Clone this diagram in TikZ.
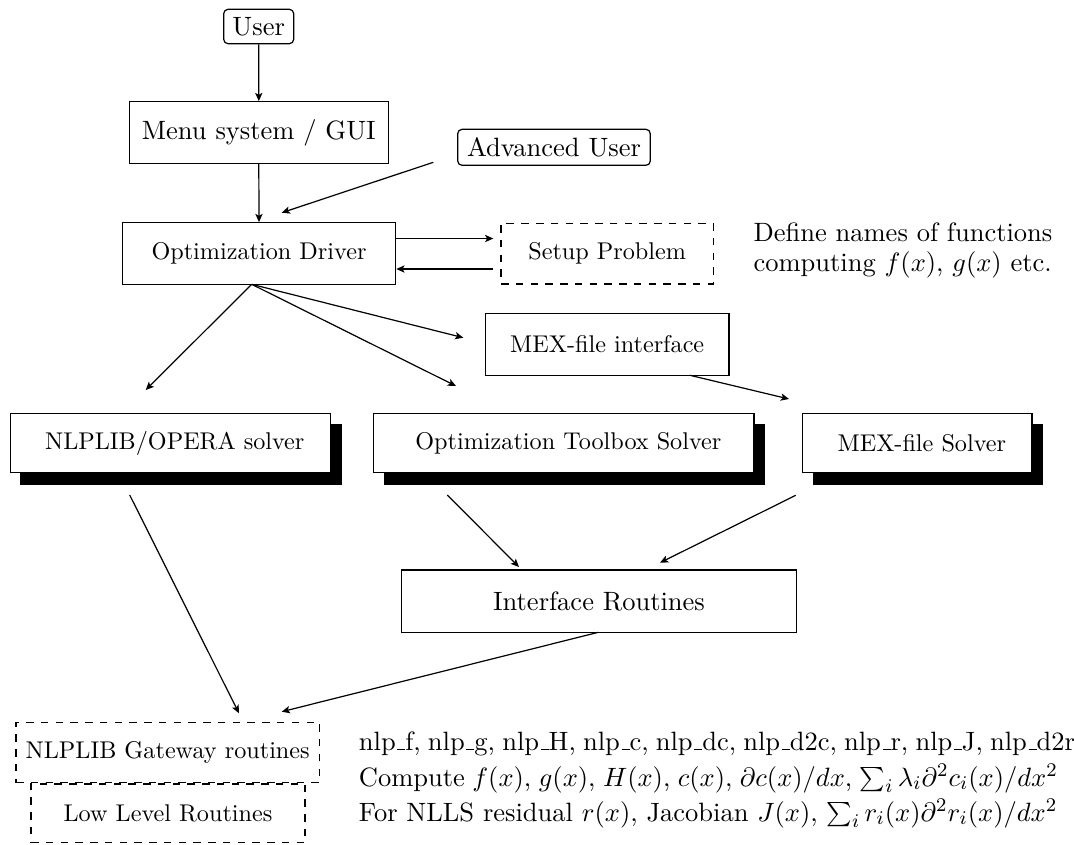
\documentclass[tikz,border=0pt]{standalone}
\usetikzlibrary{arrows.meta,backgrounds,calc}
\newcommand\uscore{\leavevmode\kern.06em\vbox{\hrule width.3em}}
\begin{document}
\begin{tikzpicture}[x=0.41322pt,y=-0.41322pt,
  line width=0.5pt,
  >={Stealth[length=3.4pt,width=3pt,inset=0.8pt]},
  fbig/.style={font=\fontsize{10.95}{13.6}\selectfont},
  fsmall/.style={font=\fontsize{10}{12}\selectfont},
  sz/.style 2 args={minimum width=#1*0.41322pt, minimum height=#2*0.41322pt},
  box/.style={draw, fill=white, inner sep=0pt},
  rbox/.style={box, rounded corners=1.8pt},
  dbox/.style={box, dash pattern=on 3.1pt off 3pt},
  txt/.style={fbig, inner sep=0pt, anchor=base west},
]
\useasboundingbox (0,0) rectangle (1074,844);

% boxes
\node[rbox, fbig, sz={70}{34.4}] (user) at (258.7,26.5) {User};
\node[box, fbig, sz={259}{61.6}] (menu) at (258.8,132.5) {Menu system / GUI};
\node[rbox, fbig, sz={192.6}{36}] (adv) at (554,147.3) {Advanced User};
\node[box, fsmall, sz={273.4}{61.6}] (opt) at (259,253.5) {Optimization Driver};
\node[dbox, fsmall, sz={212.3}{60.7}] (setup) at (607.2,253.7) {Setup Problem};
\node[box, fsmall, sz={243.7}{61.6}] (mexint) at (607.2,344.5) {MEX-file interface};
\node[box, fsmall, sz={320}{59.4}] (nlps) at (170.3,443) {\kern3.7pt NLPLIB/OPERA solver};
\node[box, fsmall, sz={380.3}{59.4}] (tbox) at (563.9,443) {\kern3.7pt Optimization Toolbox Solver};
\node[box, fsmall, sz={229.3}{59.4}] (mexs) at (917.4,443) {\kern3.7pt MEX-file Solver};
\node[box, fbig, sz={394.6}{62.3}] (iface) at (599,601.2) {Interface Routines};
\node[dbox, fsmall, sz={303.3}{60.4}] (gate) at (167.7,752.5) {NLPLIB Gateway routines};
\node[dbox, fsmall, sz={274}{58.7}] (low) at (168,813.4) {Low Level Routines};

% shadows
\begin{scope}[on background layer]
\foreach \n in {nlps,tbox,mexs}
  \fill ($(\n.south west)+(10.7,11.6)$) rectangle ($(\n.north east)+(10.7,11.6)$);
\end{scope}

% texts
\node[txt] (def1) at (753,241.7) {Define names of functions};
\node[txt] (def2) at (753,271.7) {computing $f(x)$, $g(x)$ etc.};
\node[txt] (t1) at (358.3,750) {\spaceskip=3.0pt plus 1pt nlp\uscore f, nlp\uscore g, nlp\uscore H, nlp\uscore c, nlp\uscore dc, nlp\uscore d2c, nlp\uscore r, nlp\uscore J, nlp\uscore d2r};
\node[txt] (t2) at (358.3,786) {\spaceskip=3.1pt plus 1pt Compute $f(x)$, $g(x)$, $H(x)$, $c(x)$, $\partial c(x)/dx$, $\sum_i \lambda_i \partial^2 c_i(x)/dx^2$};
\node[txt] (t3) at (358.3,821) {For NLLS residual $r(x)$, Jacobian $J(x)$, $\sum_i r_i(x) \partial^2 r_i(x)/dx^2$};

% coordinates
\coordinate (advs) at (433.3,162.3);
\coordinate (advt) at (281.7,212.7);
\coordinate (st1) at (493.3,238.5);
\coordinate (st2) at (493.3,269);
\coordinate (apex) at (251.7,284.3);
\coordinate (c1) at (145.7,390);
\coordinate (c2) at (456,386);
\coordinate (c3) at (463.3,337.7);
\coordinate (m1) at (690,375.3);
\coordinate (m2) at (789,399);
\coordinate (n1) at (129.7,495);
\coordinate (n2) at (239,713.3);
\coordinate (o1) at (447.3,495);
\coordinate (o2) at (519,567);
\coordinate (x1) at (795.7,495.3);
\coordinate (x2) at (660,562.7);
\coordinate (i1) at (598.3,632.3);
\coordinate (i2) at (281.7,711.7);

% connectors
\draw[->] (user.south) -- (menu.north);
\draw[->] (menu.south) -- (opt.north);
\draw[->] (advs) -- (advt);
\draw[->] (opt.east |- st1) -- (st1);
\draw[->] (st2) -- (opt.east |- st2);
\draw[->] (apex) -- (c1);
\draw[->] (apex) -- (c2);
\draw[->] (apex) -- (c3);
\draw[->] (m1) -- (m2);
\draw[->] (n1) -- (n2);
\draw[->] (o1) -- (o2);
\draw[->] (x1) -- (x2);
\draw[->] (i1) -- (i2);
\end{tikzpicture}
\end{document}
